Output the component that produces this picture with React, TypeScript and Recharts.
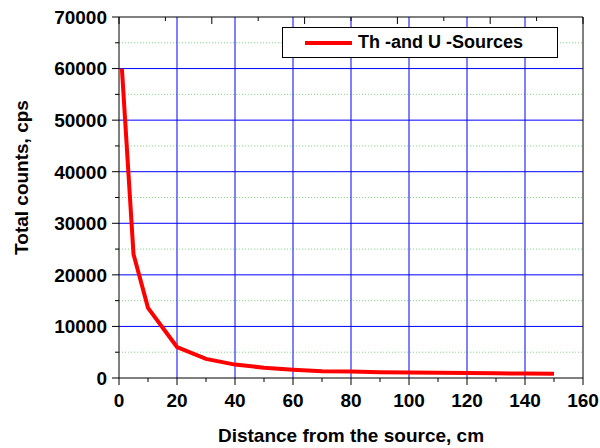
import React from 'react';
import {
    LineChart,
    Line,
    XAxis,
    YAxis,
    ReferenceLine,
    Legend,
} from 'recharts';

// distance from the source, cm
const distance = [1, 5, 10, 20, 30, 40, 50, 60, 70, 80, 90, 100, 110, 120, 130, 140, 150];
// total counts, cps
const counts = [60000, 24000, 13600, 6000, 3700, 2600, 2000, 1600, 1300, 1250, 1100, 1050, 1000, 950, 900, 880, 800];

const xTicks = [0, 10, 20, 30, 40, 50, 60, 70, 80, 90, 100, 110, 120, 130, 140, 150, 160];
const yTicks = [0, 5000, 10000, 15000, 20000, 25000, 30000, 35000, 40000, 45000, 50000, 55000, 60000, 65000, 70000];
const topTicks = [0, 16, 32, 48, 64, 80, 96, 112, 128, 144, 160];
const rightTicks = [0, 7000, 14000, 21000, 28000, 35000, 42000, 49000, 56000, 63000, 70000];

const xGrid = [20, 40, 60, 80, 100, 120, 140];
const yMajorGrid = [10000, 20000, 30000, 40000, 50000, 60000];
const yMinorGrid = [5000, 15000, 25000, 35000, 45000, 55000, 65000];

const seriesName = 'Th -and U -Sources';

const data = distance.map((d, i) => ({ distance: d, counts: counts[i] }));

const FONT = '"Liberation Sans", Arial, sans-serif';

const BottomTick = (props: any) => {
    const { x, y, payload } = props;
    const major = payload.value % 20 === 0;
    return (
        <g>
            <line x1={x} x2={x} y1={y} y2={y + (major ? 7 : 4)} stroke="#000" strokeWidth={1} />
            {major && (
                <text x={x} y={y + 29} textAnchor="middle" fontFamily={FONT} fontWeight="bold" fontSize={19} fill="#000">
                    {payload.value}
                </text>
            )}
        </g>
    );
};

const LeftTick = (props: any) => {
    const { x, y, payload } = props;
    const major = payload.value % 10000 === 0;
    return (
        <g>
            <line x1={x} x2={x - (major ? 7 : 4)} y1={y} y2={y} stroke="#000" strokeWidth={1} />
            {major && (
                <text x={x - 12} y={y} dy="0.36em" textAnchor="end" fontFamily={FONT} fontWeight="bold" fontSize={19} fill="#000">
                    {payload.value}
                </text>
            )}
        </g>
    );
};

const TopTick = (props: any) => {
    const { x, y, payload } = props;
    const major = payload.value % 32 === 0;
    return <line x1={x} x2={x} y1={y} y2={y + (major ? 7 : 4)} stroke="#000" strokeWidth={1} />;
};

const RightTick = (props: any) => {
    const { x, y, payload } = props;
    const major = payload.value % 14000 === 0;
    return <line x1={x} x2={x - (major ? 7 : 5)} y1={y} y2={y} stroke="#000" strokeWidth={1} />;
};

const LegendBox = () => (
    <div
        style={{
            width: 274,
            height: 29,
            border: '1px solid #000',
            background: '#fff',
            display: 'flex',
            alignItems: 'center',
            fontFamily: FONT,
            fontWeight: 'bold',
            fontSize: 18,
            color: '#000',
        }}
    >
        <span style={{ display: 'inline-block', width: 47, height: 4, background: '#ff0000', marginLeft: 22, marginRight: 6 }} />
        <span>{seriesName}</span>
    </div>
);

export default function App() {
    return (
        <div style={{ position: 'absolute', left: 0, top: 0, width: 600, height: 448, background: '#fff' }}>
            <LineChart width={600} height={448} data={data} margin={{ top: 0, right: 0, bottom: 0, left: 0 }}>
                <XAxis
                    xAxisId="x"
                    dataKey="distance"
                    type="number"
                    domain={[0, 160]}
                    ticks={xTicks}
                    interval={0}
                    height={70}
                    tickSize={0}
                    tickMargin={0}
                    tickLine={false}
                    tick={BottomTick}
                    axisLine={{ stroke: '#000', strokeWidth: 1 }}
                    label={{
                        value: 'Distance from the source, cm',
                        position: 'insideBottom',
                        offset: 0,
                        content: ({ viewBox }: any) => (
                            <text
                                x={viewBox.x + viewBox.width / 2}
                                y={viewBox.y + 64}
                                textAnchor="middle"
                                fontFamily={FONT}
                                fontWeight="bold"
                                fontSize={19}
                                fill="#000"
                            >
                                Distance from the source, cm
                            </text>
                        ),
                    }}
                />
                <XAxis
                    xAxisId="top"
                    orientation="top"
                    dataKey="distance"
                    type="number"
                    domain={[0, 160]}
                    ticks={topTicks}
                    interval={0}
                    height={17}
                    tickSize={0}
                    tickMargin={0}
                    tickLine={false}
                    tick={TopTick}
                    axisLine={{ stroke: '#000', strokeWidth: 1 }}
                />
                <YAxis
                    yAxisId="y"
                    type="number"
                    domain={[0, 70000]}
                    ticks={yTicks}
                    interval={0}
                    width={119}
                    tickSize={0}
                    tickMargin={0}
                    tickLine={false}
                    tick={LeftTick}
                    axisLine={{ stroke: '#000', strokeWidth: 1 }}
                    label={{
                        value: 'Total counts, cps',
                        position: 'insideLeft',
                        content: ({ viewBox }: any) => {
                            const cx = 21;
                            const cy = viewBox.y + viewBox.height / 2 - 20;
                            return (
                                <text
                                    x={cx}
                                    y={cy}
                                    dy="0.36em"
                                    transform={`rotate(-90, ${cx}, ${cy})`}
                                    textAnchor="middle"
                                    fontFamily={FONT}
                                    fontWeight="bold"
                                    fontSize={19}
                                    fill="#000"
                                >
                                    Total counts, cps
                                </text>
                            );
                        },
                    }}
                />
                <YAxis
                    yAxisId="right"
                    orientation="right"
                    type="number"
                    domain={[0, 70000]}
                    ticks={rightTicks}
                    interval={0}
                    width={17}
                    tickSize={0}
                    tickMargin={0}
                    tickLine={false}
                    tick={RightTick}
                    axisLine={{ stroke: '#000', strokeWidth: 1 }}
                />
                {yMinorGrid.map((v) => (
                    <ReferenceLine key={`m${v}`} xAxisId="x" yAxisId="y" y={v} stroke="#7ee07e" strokeWidth={1} strokeDasharray="1 2" />
                ))}
                {yMajorGrid.map((v) => (
                    <ReferenceLine key={`h${v}`} xAxisId="x" yAxisId="y" y={v} stroke="#0000ff" strokeWidth={1} />
                ))}
                {xGrid.map((v) => (
                    <ReferenceLine key={`v${v}`} xAxisId="x" yAxisId="y" x={v} stroke="#0000ff" strokeWidth={1} />
                ))}
                <Legend
                    layout="horizontal"
                    verticalAlign="middle"
                    align="center"
                    content={LegendBox}
                    wrapperStyle={{ position: 'absolute', left: 282, top: 27, width: 276, height: 31 }}
                />
                <Line
                    xAxisId="x"
                    yAxisId="y"
                    type="linear"
                    dataKey="counts"
                    name={seriesName}
                    stroke="#ff0000"
                    strokeWidth={4}
                    dot={false}
                    isAnimationActive={false}
                />
            </LineChart>
        </div>
    );
}
